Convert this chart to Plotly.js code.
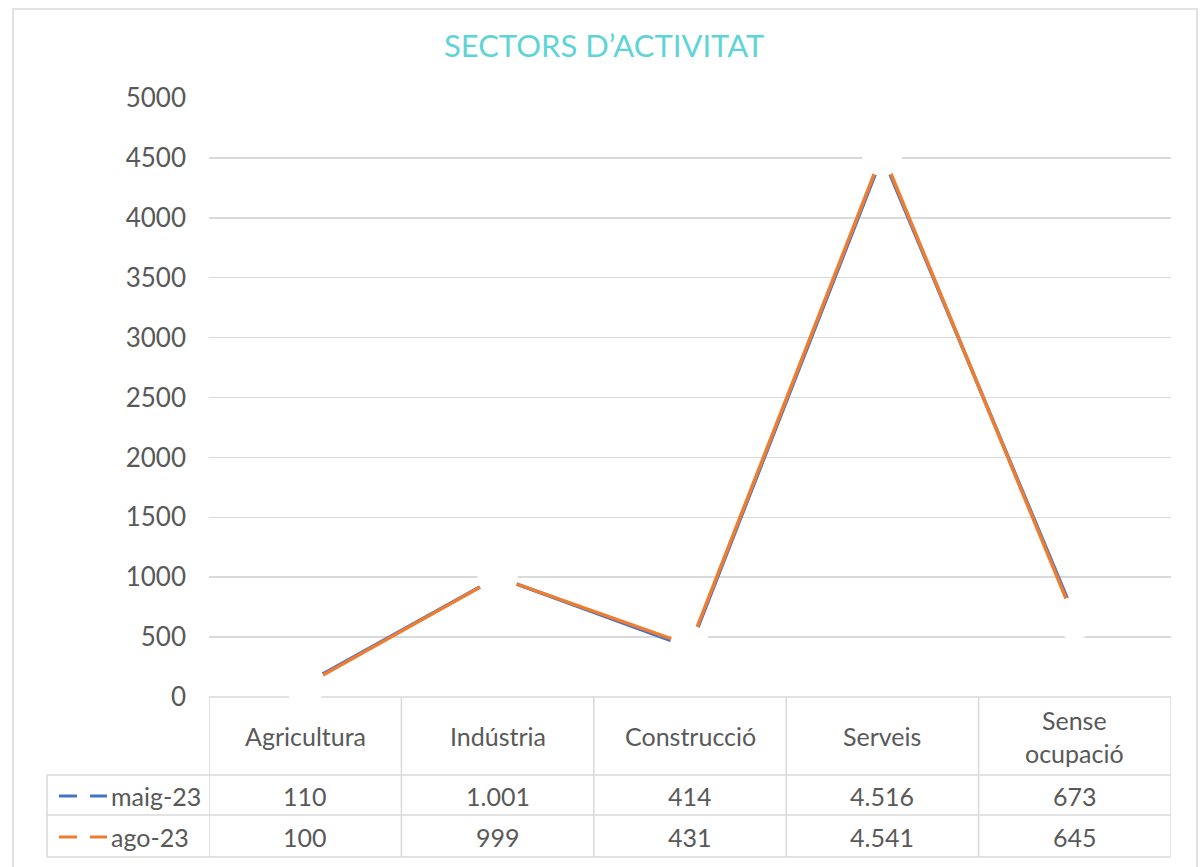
<!DOCTYPE html>
<html>
<head>
<meta charset="utf-8">
<script src="https://cdn.plot.ly/plotly-3.0.1.min.js"></script>
<style>html,body{margin:0;padding:0;background:#fff;}#chart{width:1201px;height:867px;}</style>
</head>
<body>
<div id="chart"></div>
<script>
const categories = ["Agricultura", "Indústria", "Construcció", "Serveis", "Sense ocupació"];
const headerLabels = ["Agricultura", "Indústria", "Construcció", "Serveis", "Sense<br>ocupació"];
const seriesNames = ["maig-23", "ago-23"];
const maig23 = [110, 1001, 414, 4516, 673];
const ago23 = [100, 999, 431, 4541, 645];
const yTicks = [0, 500, 1000, 1500, 2000, 2500, 3000, 3500, 4000, 4500, 5000];

const colors = ["#4472C4", "#ED7D31"];
const textColor = "#595959";
const gridColor = "#D9D9D9";
const FONT = "Lato, 'Open Sans', sans-serif";

const W = 1201, H = 867;
const M = {l: 209, r: 30, t: 98, b: 170};
const PW = W - M.l - M.r, PH = H - M.t - M.b;
const px = x => (x - M.l) / PW;
const py = y => (H - M.b - y) / PH;

function fmt(v) {
  return String(v).replace(/\B(?=(\d{3})+(?!\d))/g, ".");
}

const series = [maig23, ago23];
const traces = [];
series.forEach((vals, i) => {
  traces.push({x: categories, y: vals, type: "scatter", mode: "lines", name: seriesNames[i],
    line: {color: colors[i], width: 3.5}, hoverinfo: "skip", cliponaxis: false});
});
series.forEach((vals, i) => {
  traces.push({x: categories, y: vals, type: "scatter", mode: "markers", name: seriesNames[i],
    marker: {color: "#FFFFFF", size: 40, line: {width: 0}}, hoverinfo: "skip", cliponaxis: false});
});

const shapes = [];
const ln = (x0, y0, x1, y1, xref, color, width) => shapes.push({type: "line", layer: "below",
  xref: xref, yref: "paper", x0: x0, x1: x1, y0: y0, y1: y1, line: {color: color || gridColor, width: width || 1.5}});

// outer border
shapes.push({type: "rect", layer: "below", xref: "paper", yref: "paper",
  x0: px(13), x1: px(1197), y0: py(9), y1: py(872), line: {color: gridColor, width: 1.5}});

// table horizontal lines
ln(px(209), py(697), px(1171), py(697), "paper");
[775, 815, 857].forEach(y => ln(px(47), py(y), px(1171), py(y), "paper"));
// table vertical lines
ln(px(47), py(775), px(47), py(857), "paper");
for (let i = 0; i <= categories.length; i++) {
  ln(i - 0.5, py(697), i - 0.5, py(857), "x");
}
// legend keys
[[796, 0], [837, 1]].forEach(([y, i]) => {
  ln(px(59), py(y), px(77), py(y), "paper", colors[i], 3);
  ln(px(90), py(y), px(107), py(y), "paper", colors[i], 3);
});

const annotations = [];
const tf = {family: FONT, size: 25, color: textColor};
categories.forEach((c, i) => {
  annotations.push({x: c, xref: "x", y: py(736), yref: "paper", text: headerLabels[i],
    showarrow: false, font: tf, xanchor: "center", yanchor: "middle"});
  annotations.push({x: c, xref: "x", y: py(796), yref: "paper", text: fmt(maig23[i]),
    showarrow: false, font: tf, xanchor: "center", yanchor: "middle"});
  annotations.push({x: c, xref: "x", y: py(837), yref: "paper", text: fmt(ago23[i]),
    showarrow: false, font: tf, xanchor: "center", yanchor: "middle"});
});
[[796, 0], [837, 1]].forEach(([y, i]) => {
  annotations.push({x: px(109), xref: "paper", y: py(y), yref: "paper", text: seriesNames[i],
    showarrow: false, font: tf, xanchor: "left", yanchor: "middle"});
});

const layout = {
  width: W, height: H,
  margin: M,
  paper_bgcolor: "#FFFFFF", plot_bgcolor: "#FFFFFF",
  showlegend: false, hovermode: false,
  title: {text: "SECTORS D’ACTIVITAT", font: {family: FONT, size: 31, color: "#5FD4D8"},
    x: 0.503, xanchor: "center", y: 1 - 46 / H, yanchor: "middle", yref: "container"},
  xaxis: {type: "category", categoryarray: categories, range: [-0.5, 4.5], showgrid: false,
    showline: false, zeroline: false, showticklabels: false, ticks: "", fixedrange: true},
  yaxis: {range: [0, 5000], tickvals: yTicks, ticktext: yTicks.map(String), showgrid: true,
    gridcolor: gridColor, gridwidth: 1.5, zeroline: false, showline: false, ticks: "",
    ticklabelstandoff: 22, tickfont: {family: FONT, size: 26, color: textColor}, fixedrange: true},
  shapes: shapes,
  annotations: annotations
};

Plotly.newPlot("chart", traces, layout, {displayModeBar: false, staticPlot: true});
</script>
</body>
</html>
